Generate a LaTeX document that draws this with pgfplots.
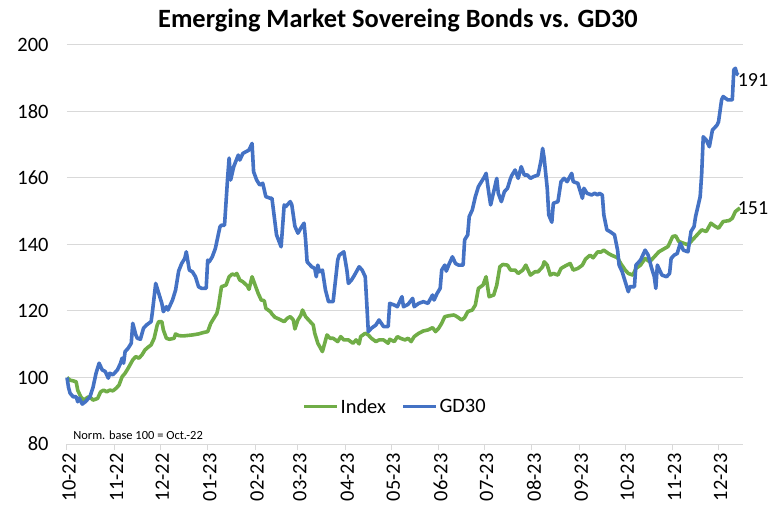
\documentclass[border=0pt]{standalone}
\usepackage{fontspec}
\setmainfont{Carlito}
\usepackage{pgfplots}
\pgfplotsset{compat=1.18}
\definecolor{gdblue}{HTML}{4472C4}
\definecolor{idxgreen}{HTML}{70AD47}
\definecolor{gridgray}{HTML}{D9D9D9}

% x = days since 1 Oct 2022
\pgfplotstableread{
d v
0 100
2 99.2
4 99
6 98.7
7 96.2
9 94.2
11 93.2
14 94.2
16 93.7
17 93.2
20 93.7
22 95.7
24 96.2
26 95.7
28 96.2
30 96
32 96.7
34 97.7
36 100.2
38 101.3
40 102.8
43 105.3
45 106.3
47 105.8
49 106.8
51 108.3
53 109.1
55 109.8
57 111.8
59 115.8
60 116.8
62 116.8
63 114.3
65 111.8
67 111.5
70 111.8
71 113.1
73 112.6
76 112.5
82 112.8
86 113.1
89 113.5
92 113.8
94 116.3
96 117.8
98 119.3
99 121.3
101 127.3
104 127.8
106 130.3
108 131.1
110 130.8
111 131.3
113 129.3
115 128.8
118 127.5
119 126.5
121 130.3
123 127.8
125 125.3
127 123.3
129 123.1
130 120.8
133 119.8
134 119.1
136 118.1
139 117.5
142 116.8
144 117.8
146 118.3
148 117.3
149 114.6
151 117.3
153 118.8
154 120.3
156 118.3
159 116.8
161 115.8
162 113.3
164 110.3
167 107.8
170 112.8
172 111.8
174 111.8
177 110.8
179 112.3
181 111.3
184 111.3
187 110.3
189 111.3
191 110.1
192 112.3
195 113.3
197 112.8
199 111.8
202 110.8
204 111.3
207 111.3
210 110.3
211 111.5
214 110.8
216 112.3
218 111.8
221 111.3
223 111.8
225 110.8
227 112.3
230 113.3
233 114
236 114.3
239 115
241 113.8
243 114.8
245 116.3
247 118.3
250 118.6
253 118.8
255 118.3
258 117.3
260 118
262 119.8
265 120.3
267 121.8
269 126.8
272 127.8
274 130.3
276 124.3
279 124.8
281 127.8
283 133.3
285 134
288 133.8
290 132.3
293 132.3
295 131.3
298 132.3
300 133.8
302 131.8
303 130.8
306 131.8
308 131.8
311 133.3
312 134.8
314 133.8
316 130.8
318 131.3
321 130.8
323 132.8
326 133.6
329 134.3
331 132.3
334 132.8
337 133.8
339 135.6
342 136.8
344 136
347 137.8
349 137.7
351 138.3
354 137.3
356 136.8
360 136
362 134.3
365 132.3
367 131.3
370 130.8
372 132.8
375 133.8
378 135.8
381 134.8
384 136.3
387 137.8
390 138.6
393 139.4
396 142.4
398 142.6
400 140.9
403 140.4
406 139.9
409 141.4
412 142.9
415 144.4
418 143.9
421 146.4
424 145.4
426 144.9
429 146.9
433 147.2
435 147.9
437 149.9
440 151
}\indextab

\pgfplotstableread{
d v
0 100
1 97
2 95.3
4 94.2
6 94.2
7 92.7
8 93.8
10 92
12 92.7
15 94.2
17 97
19 101.3
21 104.3
23 102.3
25 101.8
27 99.8
28 101.3
30 100.8
33 102.3
35 104.3
36 105.8
37 104.3
38 107.8
40 108.8
42 110.3
43 116.3
45 112.8
46 111.8
48 111.5
50 114.8
52 115.8
55 116.8
56 120.3
58 128.3
60 125.3
62 122.3
63 119.8
65 121.3
66 120.3
69 123.3
71 126.3
73 132
75 134.3
77 135.8
78 137.8
80 132.3
82 131.8
84 130.3
86 127.3
88 126.8
91 126.8
92 135.3
93 134.8
95 136.3
97 138.8
100 145.3
101 145.8
103 145.8
105 159.9
106 166
107 159.4
109 163.4
112 166.9
113 165.4
115 167.4
119 168.4
121 170.4
122 161.9
124 159.4
126 157.9
128 158.4
130 154.4
133 153.9
134 153.9
137 142.9
140 139.3
142 151.9
143 151.4
146 152.9
147 151.9
149 145.5
151 143.4
153 145
155 146.4
156 141.4
157 134.8
160 133.3
162 132.8
163 130.3
164 133.8
165 131.8
167 132.3
169 126.3
171 122.8
174 122.8
177 135.3
178 136.8
181 137.8
183 132.3
184 128.3
186 129.3
188 130.8
191 133.3
193 132.3
195 130.3
196 122.3
197 113.8
199 114.8
202 115.8
204 117.3
207 115.3
210 115.3
211 122.3
214 121.8
216 121.3
219 124.3
220 121.3
223 122
226 123.8
227 121.3
230 122.3
233 122.8
236 122.3
239 124.8
240 123.3
242 125.3
244 126.8
245 132.3
247 133.8
248 132
250 134.3
252 136.3
254 134.3
256 133.8
259 133.8
260 141.4
262 142.9
263 148.4
265 150.4
267 154.4
269 157.4
271 158.9
273 160.4
274 161.4
276 154.9
277 151.9
278 153.9
281 159.9
282 155.4
284 152.9
286 155.9
288 156.9
290 159.9
291 160.9
293 162.4
295 159.9
297 163.4
299 160.9
301 160.9
303 159.9
305 160.4
308 160.9
310 165.4
311 168.9
312 165.9
314 156.9
315 148.9
317 146.7
318 152.4
321 152.9
323 158.9
325 159.9
327 158.9
330 161.4
331 158.9
334 158.4
335 156.9
337 153.9
338 156.9
340 155.4
343 154.9
345 155.4
347 154.9
348 155.4
350 154.9
351 148.9
353 144.4
355 143.9
358 142.9
360 138.3
361 133.8
363 131.8
365 128.8
367 125.8
368 127.3
371 127.3
372 133.8
375 135.3
376 136.3
378 138.3
380 136.8
382 133.3
384 130.3
385 126.8
386 133.8
389 130.8
392 130.3
394 131.3
395 135.8
397 136.8
399 137.3
401 140.4
403 138.3
406 137.8
408 143.9
410 145.4
411 148.4
414 154.4
415 161.4
416 172.4
418 171.4
420 169.4
422 174.4
425 175.9
426 176.9
428 183.5
429 184.5
432 183.5
435 183.5
436 192.5
437 193
438 191.3
439 191
}\gdtab

\begin{document}
\begin{tikzpicture}
\path[use as bounding box] (-67bp,-68bp) rectangle (702bp,444bp);
\begin{axis}[
  name=ax, at={(0,0)}, anchor=south west,
  scale only axis, width=676bp, height=399bp,
  xmin=0, xmax=442, ymin=80, ymax=200,
  ytick={80,100,...,200},
  xtick={0,31,61,92,123,151,182,212,243,273,304,335,365,396,426},
  xticklabels={10-22,11-22,12-22,01-23,02-23,03-23,04-23,05-23,06-23,07-23,08-23,09-23,10-23,11-23,12-23},
  axis x line*=bottom,
  axis y line*=left,
  x axis line style={gridgray, line width=1bp, -},
  y axis line style={draw=none},
  xtick style={gridgray, line width=1bp},
  xtick align=outside, major tick length=6bp,
  ymajorgrids, grid style={gridgray, line width=1bp},
  ytick style={draw=none},
  tick label style={font=\fontsize{20.5}{24}\selectfont, black},
  /pgf/number format/assume math mode=true,
  yticklabel style={xshift=-15bp},
  xticklabel style={rotate=90, anchor=east, yshift=-2bp},
  legend style={at={(0.485,0.0935)}, anchor=center, legend columns=2, draw=none, fill=none,
    font=\fontsize{20.5}{24}\selectfont, column sep=0bp, inner sep=0pt,
    nodes={inner sep=1.5bp},
    /tikz/every even column/.append style={column sep=14bp}},
  legend image code/.code={\draw[#1] (0bp,0bp) -- (33bp,0bp);},
  clip=false,
]
\addplot[idxgreen, line width=3.6bp, line join=round] table[x=d, y=v] {\indextab};
\addlegendentry{Index}
\addplot[gdblue, line width=3.6bp, line join=round] table[x=d, y=v] {\gdtab};
\addlegendentry{GD30}
\node[anchor=west, font=\fontsize{20}{24}\selectfont, inner sep=0pt] at (axis cs:438.5,189.5) {191};
\node[anchor=west, font=\fontsize{20}{24}\selectfont, inner sep=0pt] at (axis cs:438.5,151) {151};
\node[anchor=base west, font=\fontsize{12.5}{14}\selectfont, inner sep=0pt] at (axis cs:4,81.5) {Norm. base 100 = Oct.-22};
\end{axis}
\node[font=\bfseries\fontsize{26.5}{30}\selectfont, anchor=center] at (331bp,424bp) {Emerging Market Sovereing Bonds vs. GD30};
\end{tikzpicture}
\end{document}
